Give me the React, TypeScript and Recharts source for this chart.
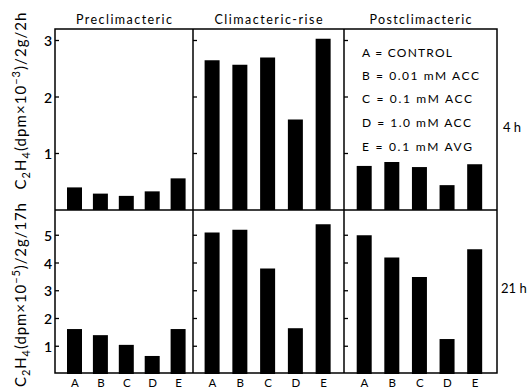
import { BarChart, Bar, XAxis, YAxis } from "recharts";

const groups = ["A", "B", "C", "D", "E"];
const stages = ["Preclimacteric", "Climacteric-rise", "Postclimacteric"];

// 4 h, C2H4 (dpm x 10^-3) / 2g / 2h
const pre4h = [0.4, 0.29, 0.25, 0.33, 0.56];
const rise4h = [2.65, 2.57, 2.7, 1.6, 3.03];
const post4h = [0.78, 0.85, 0.76, 0.44, 0.81];

// 21 h, C2H4 (dpm x 10^-5) / 2g / 17h
const pre21h = [1.62, 1.4, 1.05, 0.65, 1.62];
const rise21h = [5.1, 5.2, 3.8, 1.65, 5.4];
const post21h = [5.0, 4.2, 3.5, 1.26, 4.5];

const ticks4h = [1, 2, 3];
const ticks21h = [1, 2, 3, 4, 5];
const rowLabels = ["4 h", "21 h"];
const legendLines = [
  "A = CONTROL",
  "B = 0.01 mM ACC",
  "C = 0.1 mM ACC",
  "D = 1.0 mM ACC",
  "E = 0.1 mM AVG",
];

const FONT = "Lato, 'DejaVu Sans', sans-serif";

// frame geometry
const COLS = [55, 193, 344, 497];
const TOP = 29;
const MID = 210;
const BOTTOM = 374;

const renderYTick = (showLabel: boolean) => (props: any) => {
  const { x, y, payload } = props;
  return (
    <g>
      <line x1={x} y1={y} x2={x + 4} y2={y} stroke="#000" strokeWidth={1.3} />
      {showLabel && (
        <text
          x={x - 3}
          y={y}
          textAnchor="end"
          dominantBaseline="central"
          fontSize={14}
          fontWeight={600}
          fontFamily={FONT}
          fill="#000"
        >
          {payload.value}
        </text>
      )}
    </g>
  );
};

const renderXTick = (props: any) => {
  const { x, y, payload } = props;
  return (
    <text x={x} y={y + 13} textAnchor="middle" fontSize={11.5} fontFamily={FONT} fill="#000">
      {payload.value}
    </text>
  );
};

interface PanelProps {
  values: number[];
  col: number;
  row: number;
  max: number;
  ticks: number[];
  pad: { left: number; right: number };
}

const Panel = ({ values, col, row, max, ticks, pad }: PanelProps) => {
  const data = groups.map((g, i) => ({ group: g, value: values[i] }));
  const withLabels = col === 0;
  const withX = row === 1;
  const extraL = withLabels ? 30 : 0;
  const extraB = withX ? 16 : 0;
  const left = COLS[col];
  const width = COLS[col + 1] - left;
  const top = row === 0 ? TOP : MID;
  const height = row === 0 ? MID - TOP : BOTTOM - MID;

  return (
    <div style={{ position: "absolute", left: left - extraL - 1, top }}>
      <BarChart
        width={width + extraL + 1}
        height={height + extraB}
        data={data}
        margin={{ top: 0, right: 0, bottom: 0, left: extraL }}
      >
        <XAxis
          dataKey="group"
          hide={!withX}
          height={extraB}
          padding={pad}
          axisLine={false}
          tickLine={false}
          tickSize={0}
          tickMargin={0}
          interval={0}
          tick={renderXTick}
        />
        <YAxis
          domain={[0, max]}
          ticks={ticks}
          width={1}
          axisLine={false}
          tickLine={false}
          tickSize={0}
          tickMargin={0}
          interval={0}
          allowDataOverflow
          tick={renderYTick(withLabels)}
        />
        <Bar dataKey="value" fill="#000" barSize={15} isAnimationActive={false} />
      </BarChart>
    </div>
  );
};

const pads = [
  { left: 7, right: 1.5 },
  { left: 5.6, right: 6.6 },
  { left: 6.7, right: 8.2 },
];

const YTitle = ({ cy, exp, per, len }: { cy: number; exp: string; per: string; len: number }) => (
  <text
    x={26}
    y={cy}
    transform={`rotate(-90, 26, ${cy})`}
    textAnchor="middle"
    fontSize={15}
    fontFamily={FONT}
    fill="#000"
    textLength={len}
    lengthAdjust="spacing"
  >
    C<tspan dy={4} fontSize={11}>2</tspan>
    <tspan dy={-4}>H</tspan>
    <tspan dy={4} fontSize={11}>4</tspan>
    <tspan dy={-4}>(dpm×10</tspan>
    <tspan dy={-6} fontSize={11}>{exp}</tspan>
    <tspan dy={6}>{per}</tspan>
  </text>
);

export default function App() {
  return (
    <div style={{ position: "absolute", left: 0, top: 0, width: 530, height: 390, background: "#fff", overflow: "hidden" }}>
      <Panel values={pre4h} col={0} row={0} max={(MID - TOP) / 56.5} ticks={ticks4h} pad={pads[0]} />
      <Panel values={rise4h} col={1} row={0} max={(MID - TOP) / 56.5} ticks={ticks4h} pad={pads[1]} />
      <Panel values={post4h} col={2} row={0} max={(MID - TOP) / 56.5} ticks={ticks4h} pad={pads[2]} />
      <Panel values={pre21h} col={0} row={1} max={(BOTTOM - MID) / 27.75} ticks={ticks21h} pad={pads[0]} />
      <Panel values={rise21h} col={1} row={1} max={(BOTTOM - MID) / 27.75} ticks={ticks21h} pad={pads[1]} />
      <Panel values={post21h} col={2} row={1} max={(BOTTOM - MID) / 27.75} ticks={ticks21h} pad={pads[2]} />

      <svg width={530} height={390} style={{ position: "absolute", left: 0, top: 0, pointerEvents: "none" }}>
        <g stroke="#000" strokeWidth={1.5} fill="none">
          <rect x={COLS[0]} y={TOP} width={COLS[3] - COLS[0]} height={BOTTOM - 1 - TOP} />
          <line x1={COLS[1]} y1={TOP} x2={COLS[1]} y2={BOTTOM - 1} />
          <line x1={COLS[2]} y1={TOP} x2={COLS[2]} y2={BOTTOM - 1} />
          <line x1={COLS[0]} y1={MID} x2={COLS[3]} y2={MID} />
        </g>

        {stages.map((s, i) => (
          <text
            key={s}
            x={(COLS[i] + COLS[i + 1]) / 2}
            y={24}
            textAnchor="middle"
            fontSize={12.5}
            fontFamily={FONT}
            fill="#000"
            textLength={[96, 108, 102][i]}
            lengthAdjust="spacing"
          >
            {s}
          </text>
        ))}

        {legendLines.map((l, i) => (
          <text
            key={l}
            x={362}
            y={[57, 80, 103, 127, 151][i]}
            fontSize={12}
            fontFamily={FONT}
            fill="#000"
            textLength={[90, 117, 110, 109, 110][i]}
            lengthAdjust="spacing"
          >
            {l}
          </text>
        ))}

        <text x={503} y={132} fontSize={13} fontFamily={FONT} fill="#000">
          {rowLabels[0]}
        </text>
        <text x={501} y={293} fontSize={13} fontFamily={FONT} fill="#000">
          {rowLabels[1]}
        </text>

        <YTitle cy={101} exp="−3" per=")/2g/2h" len={177} />
        <YTitle cy={295} exp="−5" per=")/2g/17h" len={184} />
      </svg>
    </div>
  );
}
